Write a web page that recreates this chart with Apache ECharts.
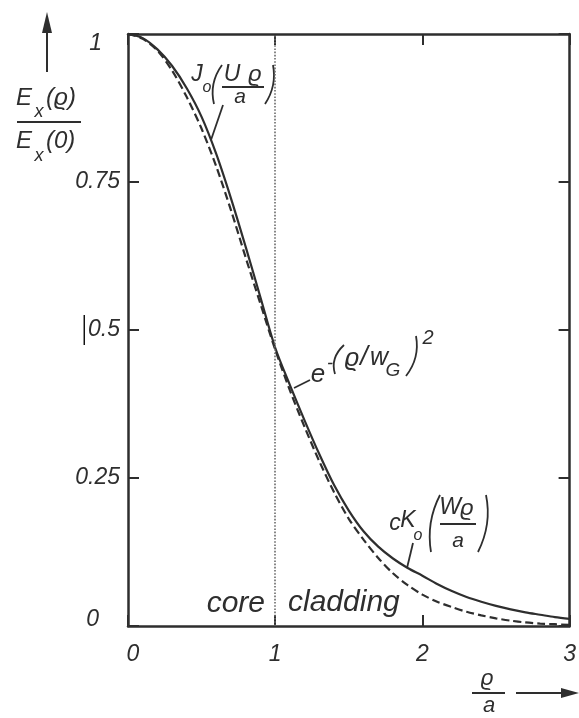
<!DOCTYPE html>
<html>
<head>
<meta charset="utf-8">
<script src="https://cdn.jsdelivr.net/npm/echarts@6/dist/echarts.min.js"></script>
<style>
  html, body { margin: 0; padding: 0; background: #fff; }
  #chart { width: 579px; height: 718px; }
</style>
</head>
<body>
<div id="chart"></div>
<script>
// Normalised radius ϱ/a
const rhoOverA = [0, 0.1, 0.2, 0.3, 0.4, 0.5, 0.6, 0.7, 0.8, 0.9, 1.0,
                  1.1, 1.2, 1.3, 1.4, 1.5, 1.6, 1.7, 1.8, 1.9, 2.0,
                  2.1, 2.2, 2.3, 2.4, 2.5, 2.6, 2.7, 2.8, 2.9, 3.0];
// Exact mode field: J0 in the core, c·K0 in the cladding
const modeField = [1.000, 0.993, 0.974, 0.946, 0.908, 0.860, 0.797, 0.722, 0.640, 0.555, 0.470,
                   0.407, 0.347, 0.290, 0.238, 0.195, 0.160, 0.134, 0.114, 0.098, 0.085,
                   0.071, 0.059, 0.049, 0.041, 0.034, 0.028, 0.023, 0.019, 0.015, 0.012];
// Gaussian approximation e^-(ϱ/wG)^2
const gaussField = [1.000, 0.992, 0.972, 0.938, 0.893, 0.840, 0.776, 0.702, 0.622, 0.544, 0.467,
                    0.398, 0.336, 0.278, 0.226, 0.181, 0.146, 0.115, 0.089, 0.069, 0.053,
                    0.041, 0.032, 0.024, 0.018, 0.013, 0.009, 0.006, 0.004, 0.003, 0.002];
const xTicks = [0, 1, 2, 3];
const yTicks = [0, 0.25, 0.5, 0.75, 1];
const coreBoundary = 1;

const INK = '#2e2e2e';
const FONT = 'Liberation Sans';

function pairs(xs, ys) { return xs.map((x, i) => [x, ys[i]]); }

function txt(x, y, text, size, align) {
  return {
    type: 'text', x: x, y: y, silent: true,
    style: {
      text: text, fill: INK, align: align || 'center', verticalAlign: 'middle',
      font: 'italic ' + size + 'px "' + FONT + '"'
    }
  };
}
function seg(x1, y1, x2, y2, w) {
  return { type: 'line', silent: true, shape: { x1, y1, x2, y2 },
           style: { stroke: INK, lineWidth: w || 2 } };
}
// tall bracket drawn as a quadratic curve
function paren(x1, y1, cx, cy, x2, y2) {
  return { type: 'bezierCurve', silent: true,
           shape: { x1, y1, cpx1: cx, cpy1: cy, x2, y2 },
           style: { stroke: INK, lineWidth: 1.8, fill: null } };
}
function head(points) {
  return { type: 'polygon', silent: true, shape: { points }, style: { fill: INK } };
}

const labelRich = {
  n:    { fontFamily: FONT, fontStyle: 'italic', fontSize: 23, color: INK },
  one:  { fontFamily: FONT, fontStyle: 'italic', fontSize: 23, color: INK, padding: [20, 18, 0, 0] },
  zero: { fontFamily: FONT, fontStyle: 'italic', fontSize: 23, color: INK, padding: [0, 21, 12, 0] },
  bar:  { width: 1.5, height: 30, backgroundColor: '#111' },
  sp:   { width: 3 },
  xz:   { fontFamily: FONT, fontStyle: 'italic', fontSize: 23, color: INK, padding: [0, 0, 0, 10] }
};

const axisLineStyle = { show: true, onZero: false, lineStyle: { color: INK, width: 2.5 } };
const tickStyle = { show: true, inside: true, length: 11, lineStyle: { color: INK, width: 2 } };

const chart = echarts.init(document.getElementById('chart'), null, { renderer: 'canvas' });

chart.setOption({
  animation: false,
  backgroundColor: '#fff',
  grid: { left: 128, top: 34, right: 7, bottom: 92, containLabel: false },
  xAxis: [
    {
      type: 'value', min: xTicks[0], max: xTicks[xTicks.length - 1], interval: 1, position: 'bottom',
      axisLine: axisLineStyle, axisTick: tickStyle, splitLine: { show: false },
      axisLabel: {
        margin: 17, fontFamily: FONT, fontStyle: 'italic', fontSize: 23, color: INK, rich: labelRich,
        formatter: v => v === 0 ? '{xz|0}' : '{n|' + v + '}'
      }
    },
    {
      type: 'value', min: xTicks[0], max: xTicks[xTicks.length - 1], interval: 1, position: 'top',
      axisLine: axisLineStyle, axisTick: tickStyle, splitLine: { show: false },
      axisLabel: { show: false }
    }
  ],
  yAxis: [
    {
      type: 'value', min: yTicks[0], max: yTicks[yTicks.length - 1], interval: 0.25, position: 'left',
      axisLine: axisLineStyle, axisTick: tickStyle, splitLine: { show: false },
      axisLabel: {
        margin: 8, fontFamily: FONT, fontStyle: 'italic', fontSize: 23, color: INK, rich: labelRich,
        formatter: v => {
          if (v === 1) return '{one|1}';
          if (v === 0) return '{zero|0}';
          if (v === 0.5) return '{bar|}{sp|}{n|0.5}';
          return '{n|' + v + '}';
        }
      }
    },
    {
      type: 'value', min: yTicks[0], max: yTicks[yTicks.length - 1], interval: 0.25, position: 'right',
      axisLine: axisLineStyle, axisTick: tickStyle, splitLine: { show: false },
      axisLabel: { show: false }
    }
  ],
  series: [
    {
      name: 'mode field', type: 'line', xAxisIndex: 0, yAxisIndex: 0,
      data: pairs(rhoOverA, modeField), smooth: 0.3, showSymbol: false,
      lineStyle: { color: INK, width: 2.2 },
      markLine: {
        silent: true, symbol: ['none', 'none'], label: { show: false },
        lineStyle: { type: 'dotted', color: '#6a6a6a', width: 1.6 },
        data: [{ xAxis: coreBoundary }]
      }
    },
    {
      name: 'gaussian', type: 'line', xAxisIndex: 0, yAxisIndex: 0,
      data: pairs(rhoOverA, gaussField), smooth: 0.3, showSymbol: false,
      lineStyle: { color: INK, width: 2.2, type: [8, 4] }
    }
  ],
  graphic: [
    // vertical axis name: E_x(ϱ) / E_x(0) with arrow
    seg(47, 30, 47, 72, 2),
    head([[47, 12], [42, 33], [52, 33]]),
    txt(24, 98, 'E', 24),
    txt(39, 112, 'x', 18),
    txt(46, 98, '(ϱ)', 24, 'left'),
    seg(17, 122, 81, 122, 2),
    txt(24, 141, 'E', 24),
    txt(39, 156, 'x', 18),
    txt(46, 141, '(0)', 24, 'left'),

    // horizontal axis name: ϱ / a with arrow
    txt(487, 679, 'ϱ', 22),
    seg(472, 693, 505, 693, 2),
    txt(489, 706, 'a', 22),
    seg(516, 693, 566, 693, 2),
    head([[579, 693], [561, 688], [561, 698]]),

    // region labels
    txt(265, 604, 'core', 30, 'right'),
    txt(288, 603, 'cladding', 30, 'left'),

    // J0(Uϱ/a)
    txt(197, 75, 'J', 23),
    txt(207, 88, 'o', 16),
    paren(222, 65, 209, 83, 214, 104),
    txt(232, 75, 'U', 23),
    txt(255, 75, 'ϱ', 23),
    seg(222, 87, 264, 87, 1.8),
    txt(240, 97, 'a', 21),
    paren(273, 65, 277, 86, 265, 104),
    seg(223, 105, 211, 140, 1.8),

    // e^-(ϱ/wG)^2
    txt(318, 375, 'e', 26),
    txt(330, 364, '-', 18),
    paren(344, 345, 330, 358, 335, 374),
    txt(352, 359, 'ϱ', 25),
    txt(364, 357, '/', 27),
    txt(379, 358, 'w', 25),
    txt(393, 371, 'G', 19),
    paren(416, 336, 420, 358, 406, 376),
    txt(428, 338, '2', 20),
    seg(294, 388, 310, 380, 1.8),

    // cK0(Wϱ/a)
    txt(395, 524, 'c', 23),
    txt(408, 521, 'K', 23),
    txt(418, 536, 'o', 16),
    paren(440, 495, 426, 522, 431, 552),
    txt(450, 508, 'W', 23),
    txt(467, 509, 'ϱ', 23),
    seg(440, 524, 476, 524, 1.8),
    txt(458, 541, 'a', 21),
    paren(486, 495, 492, 524, 478, 552),
    seg(413, 543, 407, 568, 1.8)
  ]
});
</script>
</body>
</html>
